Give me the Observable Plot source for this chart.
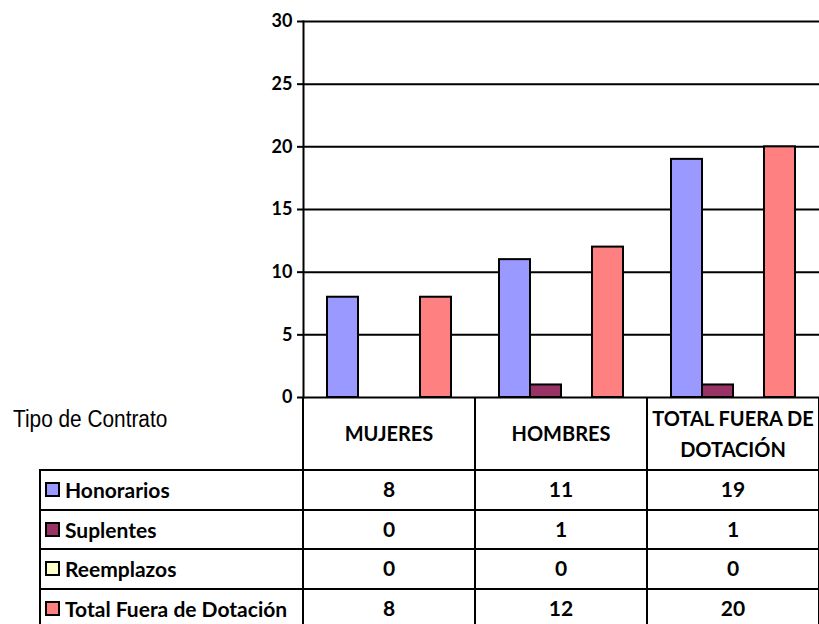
<!DOCTYPE html>
<html><head><meta charset="utf-8">
<script src="https://cdn.jsdelivr.net/npm/d3@7"></script>
<script src="https://cdn.jsdelivr.net/npm/@observablehq/plot@0.6"></script>
<style>
html,body{margin:0;padding:0;background:#fff;overflow:hidden}
#wrap{position:relative;width:819px;height:624px;overflow:hidden}
#wrap svg{position:absolute;left:0;top:0}
.b{font-family:Lato,"Open Sans",sans-serif;font-weight:bold;font-size:21px;color:#000}
.hdr{font-size:20px}
.ln{position:absolute;background:#000}
.cell{position:absolute;display:flex;align-items:center;justify-content:center;text-align:center;line-height:1.55}
.rowlbl{position:absolute;display:flex;align-items:center;white-space:nowrap}
.key{display:inline-block;width:11px;height:11px;border:2px solid #000;margin-right:5px;margin-left:5px}
.tipo{position:absolute;left:13px;top:408px;font-family:"Liberation Sans",Arial,sans-serif;font-size:23.5px;line-height:1;color:#000;transform:scaleX(0.886);transform-origin:0 0;white-space:nowrap}
</style></head><body><div id="wrap"></div>
<script>
// ---- data ----
const categories = ["MUJERES", "HOMBRES", "TOTAL FUERA DE DOTACIÓN"];
const series = ["Honorarios", "Suplentes", "Reemplazos", "Total Fuera de Dotación"];
const honorarios = [8, 11, 19];
const suplentes = [0, 1, 1];
const reemplazos = [0, 0, 0];
const totalFuera = [8, 12, 20];
const yTicks = [0, 5, 10, 15, 20, 25, 30];
const seriesColors = ["#9999FF", "#993366", "#FFFFCC", "#FF8080"];
const tableTitle = "Tipo de Contrato";

const valuesBySeries = [honorarios, suplentes, reemplazos, totalFuera];
const rows = [];
series.forEach((s, si) => categories.forEach((c, ci) => rows.push({cat: c, series: s, value: valuesBySeries[si][ci]})));

const chart = Plot.plot({
  width: 819, height: 624,
  marginLeft: 303, marginRight: 0, marginTop: 21, marginBottom: 227,
  style: {background: "transparent", overflow: "visible"},
  fx: {domain: categories, padding: 0, axis: null, label: null},
  x: {domain: series, paddingInner: 0, paddingOuter: 0.75, axis: null},
  y: {domain: [0, 30], label: null},
  color: {domain: series, range: seriesColors},
  marks: [
    Plot.gridY(yTicks, {stroke: "#000", strokeOpacity: 1, strokeWidth: 2}),
    Plot.barY(rows, {filter: d => d.value > 0, fx: "cat", x: "series", y: "value", fill: "series", stroke: "#000", strokeWidth: 2}),
    Plot.axisY(yTicks, {tickSize: 6, tickPadding: 5, strokeWidth: 2, fontSize: 18, fontWeight: "bold", fontFamily: "Lato, sans-serif", label: null}),
    Plot.frame({anchor: "left", fx: categories[0], stroke: "#000", strokeWidth: 2})
  ]
});
const wrap = document.getElementById("wrap");
wrap.appendChild(chart);

// ---- data table below the chart ----
const fx = chart.scale("fx");
const bw = fx.bandwidth;
const colLeft = categories.map(c => fx.apply(c));
const axisY0 = chart.scale("y").apply(0);
const tableLeft = 40, headerBottom = 470, rowH = 39.5;
function add(cls, css, html) {
  const d = document.createElement("div");
  d.className = cls; Object.assign(d.style, css); if (html != null) d.innerHTML = html;
  wrap.appendChild(d); return d;
}
// vertical lines
colLeft.forEach(x => add("ln", {left: (x - 1) + "px", top: axisY0 + "px", width: "2px", height: "240px"}));
add("ln", {left: (colLeft[colLeft.length - 1] + bw - 1) + "px", top: axisY0 + "px", width: "2px", height: "240px"});
add("ln", {left: (tableLeft - 1) + "px", top: (headerBottom - 1) + "px", width: "2px", height: "200px"});
// horizontal lines
series.forEach((s, i) => add("ln", {left: (tableLeft - 1) + "px", top: (headerBottom + i * rowH - 1) + "px", width: "800px", height: "2px"}));
add("ln", {left: (tableLeft - 1) + "px", top: (headerBottom + series.length * rowH - 1) + "px", width: "800px", height: "2px"});
// header texts
categories.forEach((c, i) => add("cell b hdr", {left: colLeft[i] + "px", top: axisY0 + "px", width: bw + "px", height: (headerBottom - axisY0) + "px", padding: "0 4px", boxSizing: "border-box"}, c));
// rows
series.forEach((s, si) => {
  const top = headerBottom + si * rowH;
  const lbl = add("rowlbl b", {left: tableLeft + "px", top: top + "px", width: (colLeft[0] - tableLeft) + "px", height: rowH + "px"});
  const k = document.createElement("span"); k.className = "key"; k.style.background = seriesColors[si]; lbl.appendChild(k);
  lbl.appendChild(document.createTextNode(s));
  categories.forEach((c, ci) => add("cell b", {left: colLeft[ci] + "px", top: top + "px", width: bw + "px", height: rowH + "px"}, String(valuesBySeries[si][ci])));
});
add("tipo", {}, tableTitle);
</script>
</body></html>
